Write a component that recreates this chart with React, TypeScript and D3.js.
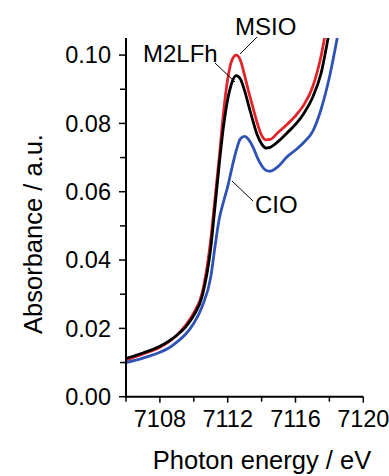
import React from "react";
import * as d3 from "d3";

const energies = [7106, 7107, 7108, 7108.5, 7109, 7109.5, 7110, 7110.5, 7111, 7111.25, 7111.5, 7111.75, 7112, 7112.25, 7112.5, 7112.75, 7113, 7113.25, 7113.5, 7113.75, 7114, 7114.25, 7114.5, 7115, 7115.5, 7116, 7116.5, 7117, 7117.5, 7118, 7118.5];

const msio = [0.0107, 0.0125, 0.0145, 0.016, 0.018, 0.0208, 0.0245, 0.0305, 0.046, 0.058, 0.07, 0.083, 0.093, 0.0985, 0.1, 0.0985, 0.094, 0.089, 0.0845, 0.08, 0.0765, 0.0752, 0.0753, 0.0775, 0.0797, 0.0822, 0.0855, 0.0905, 0.0995, 0.113, 0.125];
const m2lfh = [0.0112, 0.0128, 0.0148, 0.0162, 0.018, 0.0203, 0.0238, 0.0295, 0.0435, 0.0556, 0.068, 0.079, 0.087, 0.092, 0.094, 0.093, 0.0895, 0.085, 0.0805, 0.0765, 0.074, 0.0728, 0.073, 0.0748, 0.0772, 0.0797, 0.083, 0.0875, 0.0945, 0.107, 0.12];
const cio = [0.01, 0.0113, 0.013, 0.0142, 0.016, 0.0182, 0.0215, 0.0265, 0.035, 0.0439, 0.052, 0.057, 0.0615, 0.067, 0.072, 0.0755, 0.0762, 0.0752, 0.073, 0.07, 0.0677, 0.0663, 0.066, 0.0675, 0.0702, 0.0722, 0.0745, 0.0775, 0.084, 0.0935, 0.106];

const seriesNames = ["MSIO", "M2LFh", "CIO"];
const seriesColors = ["#e3232a", "#000000", "#2f52b5"];

const xMajor = [7108, 7112, 7116, 7120];
const xMinor = [7106, 7110, 7114, 7118];
const yMajor = [0, 0.02, 0.04, 0.06, 0.08, 0.1];
const yMinor = [0.01, 0.03, 0.05, 0.07, 0.09];

const xTitle = "Photon energy / eV";
const yTitle = "Absorbance / a.u.";

export default function App() {
  const W = 389, H = 476;
  const x = d3.scaleLinear().domain([7106, 7120]).range([126, 363.3]);
  const y = d3.scaleLinear().domain([0, 0.105]).range([396.7, 38]);
  const line = d3
    .line<[number, number]>()
    .x((d) => x(d[0]))
    .y((d) => y(d[1]))
    .curve(d3.curveMonotoneX);
  const allSeries = [msio, m2lfh, cio];
  const font = "'Liberation Sans', Arial, sans-serif";
  const x0 = x.range()[0];
  const y0 = y.range()[0];

  return (
    <svg width={W} height={H} style={{ position: "absolute", left: 0, top: 0, background: "#fff" }} fontFamily={font}>
      <defs>
        <clipPath id="plotclip">
          <rect x={x0} y={y(0.105)} width={x(7120) - x0} height={y0 - y(0.105)} />
        </clipPath>
      </defs>
      <g clipPath="url(#plotclip)">
        {allSeries.map((vals, i) => (
          <path
            key={seriesNames[i]}
            d={line(energies.map((e, j) => [e, vals[j]] as [number, number])) || ""}
            fill="none"
            stroke={seriesColors[i]}
            strokeWidth={2.8}
            strokeLinejoin="round"
          />
        ))}
      </g>
      {/* axes */}
      <line x1={x0} x2={x0} y1={y(0.105)} y2={y0 + 1} stroke="#000" strokeWidth={2} />
      <line x1={x0 - 1} x2={x(7120)} y1={y0} y2={y0} stroke="#000" strokeWidth={2} />
      {yMajor.map((v) => (
        <g key={"ym" + v}>
          <line x1={x0 - 7} x2={x0} y1={y(v)} y2={y(v)} stroke="#000" strokeWidth={1.5} />
          <text x={x0 - 15} y={y(v)} dy="0.35em" textAnchor="end" fontSize={23.5}>
            {v.toFixed(2)}
          </text>
        </g>
      ))}
      {yMinor.map((v) => (
        <line key={"yn" + v} x1={x0 - 6} x2={x0} y1={y(v)} y2={y(v)} stroke="#000" strokeWidth={1.5} />
      ))}
      {xMajor.map((v) => (
        <g key={"xm" + v}>
          <line x1={x(v)} x2={x(v)} y1={y0} y2={y0 + 6} stroke="#000" strokeWidth={1.5} />
          <text x={x(v)} y={427} textAnchor="middle" fontSize={23.5}>
            {v}
          </text>
        </g>
      ))}
      {xMinor.map((v) => (
        <line key={"xn" + v} x1={x(v)} x2={x(v)} y1={y0} y2={y0 + 5} stroke="#000" strokeWidth={1.5} />
      ))}
      <text x={262} y={469} textAnchor="middle" fontSize={25.5}>
        {xTitle}
      </text>
      <text transform="translate(42,234) rotate(-90)" textAnchor="middle" fontSize={25.5}>
        {yTitle}
      </text>
      {/* annotations */}
      <text x={235} y={35} fontSize={24}>{seriesNames[0]}</text>
      <line x1={257} y1={37} x2={240} y2={54} stroke="#000" strokeWidth={1} />
      <text x={143} y={62} fontSize={24}>{seriesNames[1]}</text>
      <line x1={215} y1={63} x2={235} y2={82} stroke="#000" strokeWidth={1} />
      <text x={255} y={213} fontSize={24}>{seriesNames[2]}</text>
      <line x1={232} y1={181} x2={253} y2={201} stroke="#000" strokeWidth={1} />
    </svg>
  );
}
